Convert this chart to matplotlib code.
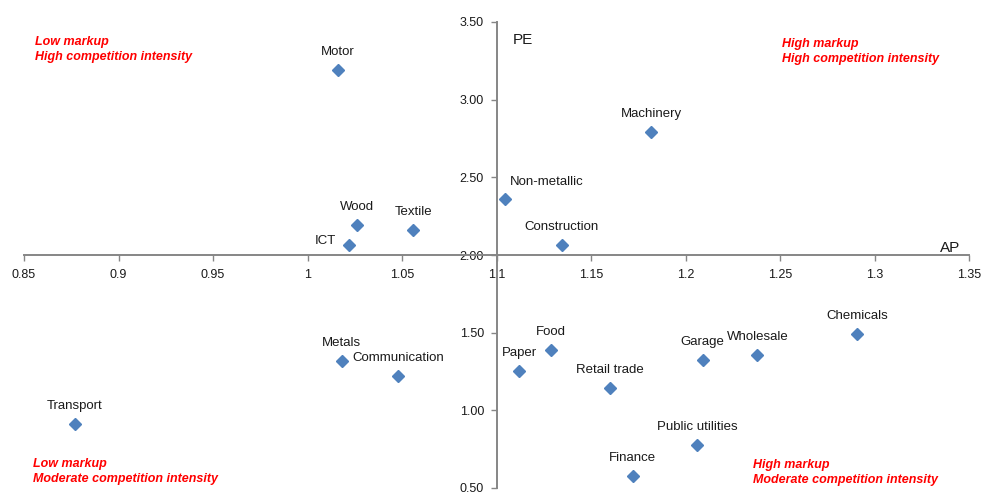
import matplotlib
matplotlib.use("Agg")
import matplotlib.pyplot as plt

plt.rcParams['font.family'] = ['Liberation Sans', 'DejaVu Sans']

# Sector positions: allocative performance (AP) vs. price elasticity (PE)
sectors = ["Motor", "Wood", "Textile", "ICT", "Machinery", "Non-metallic",
           "Construction", "Transport", "Metals", "Communication", "Paper",
           "Food", "Retail trade", "Garage", "Wholesale", "Chemicals",
           "Public utilities", "Finance"]
ap = [1.016, 1.026, 1.056, 1.022, 1.182, 1.1045,
      1.1345, 0.877, 1.018, 1.048, 1.112,
      1.129, 1.160, 1.209, 1.238, 1.291,
      1.206, 1.172]
pe = [3.19, 2.19, 2.16, 2.064, 2.79, 2.36,
      2.064, 0.91, 1.32, 1.223, 1.253,
      1.388, 1.142, 1.324, 1.356, 1.493,
      0.779, 0.575]

x_ticks = [0.85, 0.9, 0.95, 1.0, 1.05, 1.1, 1.15, 1.2, 1.25, 1.3, 1.35]
x_tick_labels = ["0.85", "0.9", "0.95", "1", "1.05", "1.1", "1.15", "1.2", "1.25", "1.3", "1.35"]
y_ticks = [0.5, 1.0, 1.5, 2.0, 2.5, 3.0, 3.5]
y_tick_labels = ["0.50", "1.00", "1.50", "2.00", "2.50", "3.00", "3.50"]

quadrant_notes = [
    ("Low markup\nHigh competition intensity", 35, 36),
    ("High markup\nHigh competition intensity", 782, 38),
    ("Low markup\nModerate competition intensity", 33, 458),
    ("High markup\nModerate competition intensity", 753, 459),
]

W, H = 983, 493
fig = plt.figure(figsize=(W / 100, H / 100), dpi=100)
ax = fig.add_axes([24 / W, 1 - 488 / H, (969 - 24) / W, (488 - 22) / H])

ax.plot(ap, pe, linestyle="none", marker="D", markersize=6.2,
        color="#4F81BD", markeredgecolor="#4F81BD", zorder=3)

# label placement offsets in pixels (dx, dy up)
default_off = (0, 18)
special_off = {"ICT": (-24, 4), "Non-metallic": (42, 17)}
for name, x, y in zip(sectors, ap, pe):
    dx, dy = special_off.get(name, default_off)
    ax.annotate(name, (x, y), xytext=(dx * 0.72, dy * 0.72),
                textcoords="offset points", ha="center", va="center",
                fontsize=9.5, color="#1a1a1a")

ax.set_xlim(0.85, 1.35)
ax.set_ylim(0.5, 3.5)

for side in ("top", "right"):
    ax.spines[side].set_visible(False)
ax.spines["left"].set_position(("data", 1.1))
ax.spines["bottom"].set_position(("data", 2.0))
for side in ("left", "bottom"):
    ax.spines[side].set_color("#868686")
    ax.spines[side].set_linewidth(1.4)

ax.set_xticks(x_ticks)
ax.set_xticklabels(x_tick_labels)
ax.set_yticks(y_ticks)
ax.set_yticklabels(y_tick_labels)
ax.tick_params(axis="both", direction="out", length=4, width=1,
               color="#868686", labelsize=9, labelcolor="#1a1a1a")
ax.tick_params(axis="x", pad=6)
ax.tick_params(axis="y", pad=5)

ax.text(513 / W, 1 - 40 / H, "PE", transform=fig.transFigure,
        ha="left", va="center", fontsize=11, color="#1a1a1a")
ax.text(940 / W, 1 - 248 / H, "AP", transform=fig.transFigure,
        ha="left", va="center", fontsize=11, color="#1a1a1a")

for txt, px, py in quadrant_notes:
    fig.text(px / W, 1 - py / H, txt, ha="left", va="top", fontsize=9,
             color="#FF0000", fontweight="bold", fontstyle="italic",
             linespacing=1.3)

fig.savefig("out.png", dpi=100)
